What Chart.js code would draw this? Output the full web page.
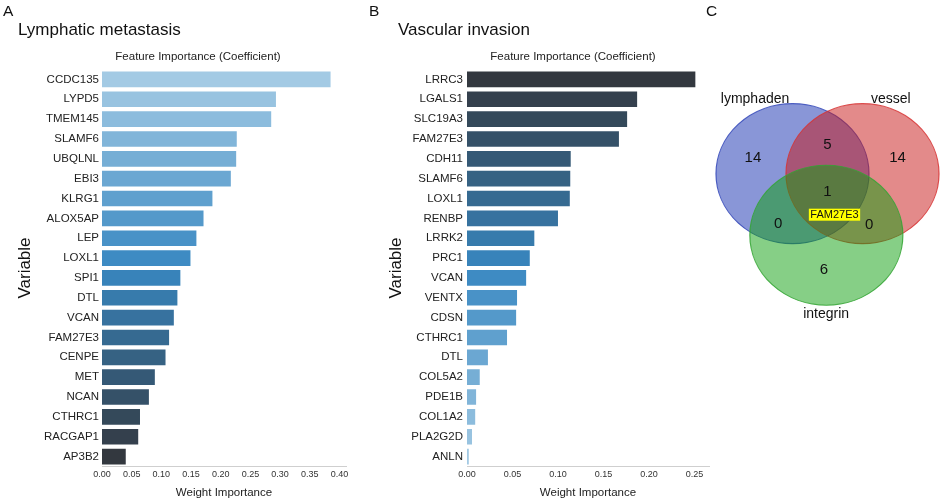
<!DOCTYPE html>
<html lang="en">
<head>
<meta charset="UTF-8">
<title>Feature importance and gene overlap</title>
<script src="https://cdn.jsdelivr.net/npm/chart.js"></script>
<style>
  body { margin: 0; background: #fff; }
  #wrap { position: relative; width: 941px; height: 502px; overflow: hidden; }
  canvas { position: absolute; top: 0; }
  #chartA { left: 0; }
  #chartB { left: 362px; }
  #chartC { left: 700px; }
</style>
</head>
<body>
<div id="wrap">
  <canvas id="chartA" width="360" height="502"></canvas>
  <canvas id="chartB" width="358" height="502"></canvas>
  <canvas id="chartC" width="241" height="502"></canvas>
</div>

<script>
// panel A - lymphatic metastasis
const lymphGenes = ['CCDC135', 'LYPD5', 'TMEM145', 'SLAMF6', 'UBQLNL', 'EBI3', 'KLRG1', 'ALOX5AP', 'LEP', 'LOXL1',
                    'SPI1', 'DTL', 'VCAN', 'FAM27E3', 'CENPE', 'MET', 'NCAN', 'CTHRC1', 'RACGAP1', 'AP3B2'];
const lymphWeights = [0.385, 0.293, 0.285, 0.227, 0.226, 0.217, 0.186, 0.171, 0.159, 0.149,
                      0.132, 0.127, 0.121, 0.113, 0.107, 0.089, 0.079, 0.064, 0.061, 0.040];
const lymphTicks = [0, 0.05, 0.10, 0.15, 0.20, 0.25, 0.30, 0.35, 0.40];

// panel B - vascular invasion
const vesselGenes = ['LRRC3', 'LGALS1', 'SLC19A3', 'FAM27E3', 'CDH11', 'SLAMF6', 'LOXL1', 'RENBP', 'LRRK2', 'PRC1',
                     'VCAN', 'VENTX', 'CDSN', 'CTHRC1', 'DTL', 'COL5A2', 'PDE1B', 'COL1A2', 'PLA2G2D', 'ANLN'];
const vesselWeights = [0.251, 0.187, 0.176, 0.167, 0.114, 0.1135, 0.113, 0.100, 0.074, 0.069,
                       0.065, 0.055, 0.054, 0.044, 0.023, 0.014, 0.010, 0.009, 0.0055, 0.002];
const vesselTicks = [0, 0.05, 0.10, 0.15, 0.20, 0.25];

// panel C - venn counts
const setNames = ['lymphaden', 'vessel', 'integrin'];
// regions: L only, L&V, V only, L&V&I, L&I, V&I, I only
const regionCounts = [14, 5, 14, 1, 0, 0, 6];
const sharedGene = 'FAM27E3';

// venn layout (units of the hidden scales); circles get stretched sideways by VENN_STRETCH
const VENN_STRETCH = 1.093;
const vennCenters = [{ x: -0.915, y: 0.9 }, { x: 0.915, y: 0.9 }, { x: -0.03, y: -0.9 }];
const regionPos = [{ x: -2.13, y: 1.36 }, { x: 0, y: 1.73 }, { x: 2.0, y: 1.36 }, { x: 0, y: 0.37 },
                   { x: -1.41, y: -0.57 }, { x: 1.19, y: -0.6 }, { x: -0.1, y: -1.92 }];
const setLabelPos = [{ x: -2.07, y: 3.08 }, { x: 1.81, y: 3.08 }, { x: -0.04, y: -3.2 }];
const sharedPos = { x: 0.2, y: -0.3 };

const FONT = "'Liberation Sans', Arial, Helvetica, sans-serif";
Chart.defaults.font.family = FONT;
Chart.defaults.color = '#222';
Chart.defaults.animation = false;

// light blue -> blue -> dark grey, like seaborn Blues_d
function blendPalette(stops, n) {
  const out = [];
  for (let i = 0; i < n; i++) {
    const t = i / (n - 1) * (stops.length - 1);
    const k = Math.min(Math.floor(t), stops.length - 2);
    const f = t - k;
    const c = stops[k].map((v, j) => Math.round(v + (stops[k + 1][j] - v) * f));
    out.push('rgb(' + c.join(',') + ')');
  }
  return out;
}
const bluesD = blendPalette([[163, 202, 228], [56, 135, 193], [51, 56, 63]], 20);

const panelText = {
  id: 'panelText',
  afterDraw(chart, args, o) {
    const ctx = chart.ctx;
    ctx.save();
    ctx.fillStyle = '#111';
    ctx.textAlign = 'left';
    ctx.textBaseline = 'alphabetic';
    ctx.font = '15.5px ' + FONT;
    ctx.fillText(o.letter, o.letterX, 15.5);
    if (o.title) {
      ctx.font = '17px ' + FONT;
      ctx.fillText(o.title, o.titleX, 35);
    }
    if (o.sub) {
      ctx.font = '11.5px ' + FONT;
      ctx.textAlign = 'center';
      ctx.textBaseline = 'middle';
      ctx.fillStyle = '#222';
      ctx.fillText(o.sub, o.subX, 57);
    }
    ctx.restore();
  }
};

function barChart(id, genes, weights, ticks, colors, cfg) {
  return new Chart(document.getElementById(id), {
    type: 'bar',
    data: {
      labels: genes,
      datasets: [{ data: weights, backgroundColor: colors, barPercentage: 0.79, categoryPercentage: 1 }]
    },
    options: {
      responsive: false,
      events: [],
      indexAxis: 'y',
      layout: { padding: { top: 69.5, right: cfg.padRight, bottom: 0, left: 0 } },
      plugins: {
        legend: { display: false },
        tooltip: { enabled: false },
        panelText: cfg.text
      },
      scales: {
        x: {
          min: 0,
          max: cfg.max,
          afterFit: s => { s.height = 35.5; },
          afterBuildTicks: s => { s.ticks = ticks.map(v => ({ value: v })); },
          grid: { display: false, drawTicks: false },
          border: { display: true, color: '#cfcfcf', width: 1 },
          ticks: { font: { size: 9 }, color: '#333', padding: 3, callback: v => v.toFixed(2) },
          title: { display: true, text: 'Weight Importance', font: { size: 11.5 }, color: '#222',
                   padding: { top: 0, bottom: 2 } }
        },
        y: {
          afterFit: s => { s.width = cfg.axisWidth; },
          grid: { display: false, drawTicks: false },
          border: { display: false },
          ticks: { font: { size: 11.5 }, color: '#222', padding: cfg.tickPad, autoSkip: false },
          title: { display: true, text: 'Variable', font: { size: 17 }, color: '#111',
                   padding: { top: cfg.titlePad, bottom: 0 } }
        }
      }
    },
    plugins: [panelText]
  });
}

barChart('chartA', lymphGenes, lymphWeights, lymphTicks, bluesD, {
  max: 0.411, padRight: 14, axisWidth: 102, tickPad: 3, titlePad: 15.5,
  text: { letter: 'A', letterX: 3, title: 'Lymphatic metastasis', titleX: 18,
          sub: 'Feature Importance (Coefficient)', subX: 198 }
});

barChart('chartB', vesselGenes, vesselWeights, vesselTicks, bluesD.slice().reverse(), {
  max: 0.266, padRight: 11, axisWidth: 105, tickPad: 4, titlePad: 24.5,
  text: { letter: 'B', letterX: 7, title: 'Vascular invasion', titleX: 36,
          sub: 'Feature Importance (Coefficient)', subX: 211 }
});

const vennFill = ['rgba(20,45,175,0.5)', 'rgba(200,22,22,0.5)', 'rgba(14,160,14,0.5)'];
const vennLine = ['rgba(50,70,185,0.85)', 'rgba(215,50,50,0.85)', 'rgba(50,165,50,0.85)'];

const vennText = {
  id: 'vennText',
  beforeDatasetsDraw(chart) {
    // widen the circles into the ellipses of the original
    const { ctx, scales: { x } } = chart;
    const cx = x.getPixelForValue(0);
    ctx.save();
    ctx.translate(cx, 0);
    ctx.scale(VENN_STRETCH, 1);
    ctx.translate(-cx, 0);
  },
  afterDatasetsDraw(chart) {
    const { ctx, scales: { x, y } } = chart;
    ctx.restore();
    ctx.save();
    ctx.textAlign = 'center';
    ctx.textBaseline = 'middle';
    ctx.fillStyle = '#111';
    ctx.font = '15px ' + FONT;
    regionCounts.forEach((n, i) => {
      ctx.fillText(String(n), x.getPixelForValue(regionPos[i].x), y.getPixelForValue(regionPos[i].y));
    });
    ctx.font = '14px ' + FONT;
    setNames.forEach((s, i) => {
      ctx.fillText(s, x.getPixelForValue(setLabelPos[i].x), y.getPixelForValue(setLabelPos[i].y));
    });
    ctx.font = '11px ' + FONT;
    const px = x.getPixelForValue(sharedPos.x);
    const py = y.getPixelForValue(sharedPos.y);
    const w = ctx.measureText(sharedGene).width + 3;
    ctx.fillStyle = '#ffff00';
    ctx.fillRect(px - w / 2, py - 6, w, 12);
    ctx.fillStyle = '#111';
    ctx.fillText(sharedGene, px, py + 0.5);
    ctx.restore();
  }
};

new Chart(document.getElementById('chartC'), {
  type: 'scatter',
  data: {
    datasets: setNames.map((name, i) => ({
      label: name,
      data: [vennCenters[i]],
      order: 3 - i,
      clip: false,
      pointRadius: 70,
      pointHoverRadius: 70,
      pointBackgroundColor: vennFill[i],
      pointBorderColor: vennLine[i],
      pointBorderWidth: 1.1
    }))
  },
  options: {
    responsive: false,
    events: [],
    layout: { padding: 0, autoPadding: false },
    plugins: {
      legend: { display: false },
      tooltip: { enabled: false },
      panelText: { letter: 'C', letterX: 6 }
    },
    scales: {
      x: { display: false, min: -3.643, max: 3.243 },
      y: { display: false, min: -8.70, max: 5.977 }
    }
  },
  plugins: [panelText, vennText]
});
</script>
</body>
</html>
